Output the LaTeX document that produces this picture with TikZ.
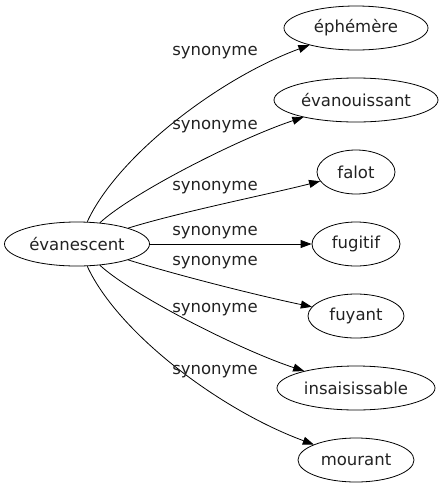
\documentclass[tikz,border=0pt]{standalone}
\usepackage{fontspec}
\setmainfont{DejaVu Sans}
\usetikzlibrary{shapes.geometric,arrows.meta}
\definecolor{ink}{HTML}{222222}
\tikzset{
  word/.style={ellipse,draw,line width=0.8pt,inner sep=0pt,minimum height=44pt,text=ink,font=\fontsize{16.5}{19}\selectfont},
  rel/.style={line width=0.8pt,-{Triangle[length=11pt,width=8pt]}},
  lab/.style={font=\fontsize{16.5}{19}\selectfont,text=ink,inner sep=0pt}
}
\begin{document}
\begin{tikzpicture}[x=1pt,y=-1pt]
\useasboundingbox (0,0) rectangle (444,491);
\node[word,minimum width=145pt] (c) at (77,244) {évanescent};
\node[word,minimum width=144pt] (t1) at (356,28) {éphémère};
\node[word,minimum width=164pt] (t2) at (356,100) {évanouissant};
\node[word,minimum width=78pt] (t3) at (356,172) {falot};
\node[word,minimum width=88pt] (t4) at (356,244) {fugitif};
\node[word,minimum width=96pt] (t5) at (356,316) {fuyant};
\node[word,minimum width=158pt] (t6) at (356,388) {insaisissable};
\node[word,minimum width=116pt] (t7) at (356,460) {mourant};
\draw[rel] (c) .. controls (118,155) and (220,78) .. (t1);
\draw[rel] (c) .. controls (132,193) and (240,138) .. (t2);
\draw[rel] (c) .. controls (180,212) and (270,194) .. (t3);
\draw[rel] (c) -- (t4);
\draw[rel] (c) .. controls (180,276) and (260,296) .. (t5);
\draw[rel] (c) .. controls (132,295) and (240,350) .. (t6);
\draw[rel] (c) .. controls (118,333) and (220,410) .. (t7);
\node[lab] (l1) at (215,53) {synonyme};
\node[lab] (l2) at (215,127) {synonyme};
\node[lab] (l3) at (215,188) {synonyme};
\node[lab] (l4) at (215,233) {synonyme};
\node[lab] (l5) at (215,263) {synonyme};
\node[lab] (l6) at (215,310) {synonyme};
\node[lab] (l7) at (215,372) {synonyme};
\end{tikzpicture}
\end{document}
